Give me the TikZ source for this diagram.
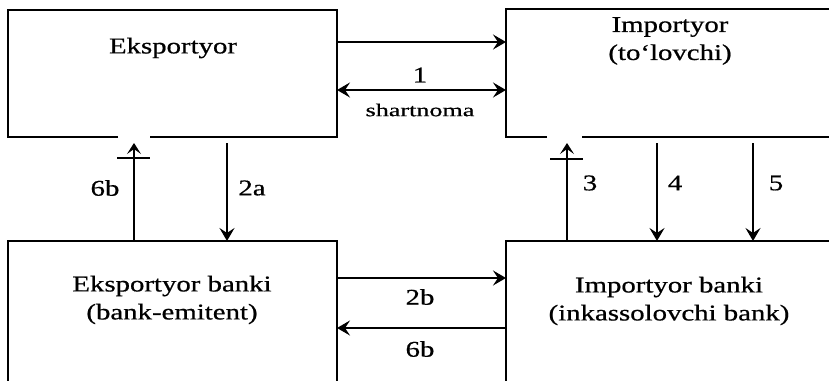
\documentclass[tikz,border=0pt]{standalone}
\usepackage{fontspec}
\setmainfont[FakeStretch=1.28,FakeBold=0.7]{Liberation Serif}
\newfontfamily\smallfnt[FakeStretch=1.45,FakeBold=0.6]{Liberation Serif}
\usetikzlibrary{arrows.meta}
\begin{document}
\begin{tikzpicture}[x=1pt,y=-1pt,
  ln/.style={line width=2pt},
  arr/.style={ln,-{Stealth[length=13pt,width=15pt,inset=5pt]}},
  uparr/.style={ln,-{Stealth[length=11pt,width=14pt,inset=5pt]}},
  darr/.style={ln,{Stealth[length=13pt,width=15pt,inset=5pt]}-{Stealth[length=13pt,width=15pt,inset=5pt]}},
  boxnode/.style={rectangle, inner sep=0pt, outer sep=0pt, minimum width=329pt},
  txt/.style={font=\fontsize{22.5}{28}\selectfont, align=center, inner sep=0pt},
  lbl/.style={font=\fontsize{22.5}{28}\selectfont, inner sep=0pt},
  smalllbl/.style={font=\smallfnt\fontsize{18}{20}\selectfont, inner sep=0pt}]
\useasboundingbox (0,0) rectangle (829,380);
\clip (0,0) rectangle (829,380);

% boxes
\node[boxnode, minimum height=127pt] (exp) at (172.5,73.5) {};
\node[boxnode, minimum height=128pt] (imp) at (670.5,73) {};
\node[boxnode, minimum height=160pt] (ebk) at (172.5,321) {};
\node[boxnode, minimum height=160pt] (ibk) at (670.5,321) {};

% gaps in bottom edges of top boxes
\coordinate (g1l) at (118,0);
\coordinate (g1r) at (150,0);
\coordinate (g3l) at (547,0);
\coordinate (g3r) at (582,0);

\draw[ln] (g1l |- exp.south) -- (exp.south west) -- (exp.north west) -- (exp.north east) -- (exp.south east) -- (g1r |- exp.south);
\draw[ln] (g3l |- imp.south) -- (imp.south west) -- (imp.north west) -- (imp.north east) -- (imp.south east) -- (g3r |- imp.south);
\draw[ln] (ebk.south west) -- (ebk.north west) -- (ebk.north east) -- (ebk.south east);
\draw[ln] (ibk.south west) -- (ibk.north west) -- (ibk.north east) -- (ibk.south east);

% box texts
\node[txt] (expT) at (173,48) {Eksportyor};
\node[txt] (impT) at (670,41) {Importyor\\(to‘lovchi)};
\node[txt] (ebkT) at (172,300) {Eksportyor banki\\(bank-emitent)};
\node[txt] (ibkT) at (669,301) {Importyor banki\\(inkassolovchi bank)};

% horizontal connectors
\coordinate (r1) at (0,42);
\coordinate (r2) at (0,90);
\coordinate (r3) at (0,278);
\coordinate (r4) at (0,328);
\draw[arr] (exp.east |- r1) -- (imp.west |- r1);
\draw[darr] (exp.east |- r2) -- (imp.west |- r2);
\draw[arr] (ebk.east |- r3) -- (ibk.west |- r3);
\draw[arr] (ibk.west |- r4) -- (ebk.east |- r4);

% vertical connectors
\coordinate (c6) at (134,143);
\coordinate (c2a) at (227,143);
\coordinate (c3) at (567,143);
\coordinate (c4) at (657,143);
\coordinate (c5) at (753,143);
\draw[uparr] (c6 |- ebk.north) -- (c6);
\draw[arr] (c2a) -- (c2a |- ebk.north);
\draw[uparr] (c3 |- ibk.north) -- (c3);
\draw[arr] (c4) -- (c4 |- ibk.north);
\draw[arr] (c5) -- (c5 |- ibk.north);

% bars under the upward heads
\coordinate (b6l) at (117,158);
\coordinate (b6r) at (150,158);
\coordinate (b3l) at (550,159);
\coordinate (b3r) at (583,159);
\draw[ln] (b6l) -- (b6r);
\draw[ln] (b3l) -- (b3r);

% labels
\node[lbl] (l1) at (420,75) {1};
\node[smalllbl] (ls) at (420,110) {shartnoma};
\node[lbl] (l6b) at (105,188) {6b};
\node[lbl] (l2a) at (252,188) {2a};
\node[lbl] (l3) at (590,183) {3};
\node[lbl] (l4) at (675,183) {4};
\node[lbl] (l5) at (776,183) {5};
\node[lbl] (l2b) at (420,297) {2b};
\node[lbl] (l6b2) at (420,349) {6b};
\end{tikzpicture}
\end{document}
